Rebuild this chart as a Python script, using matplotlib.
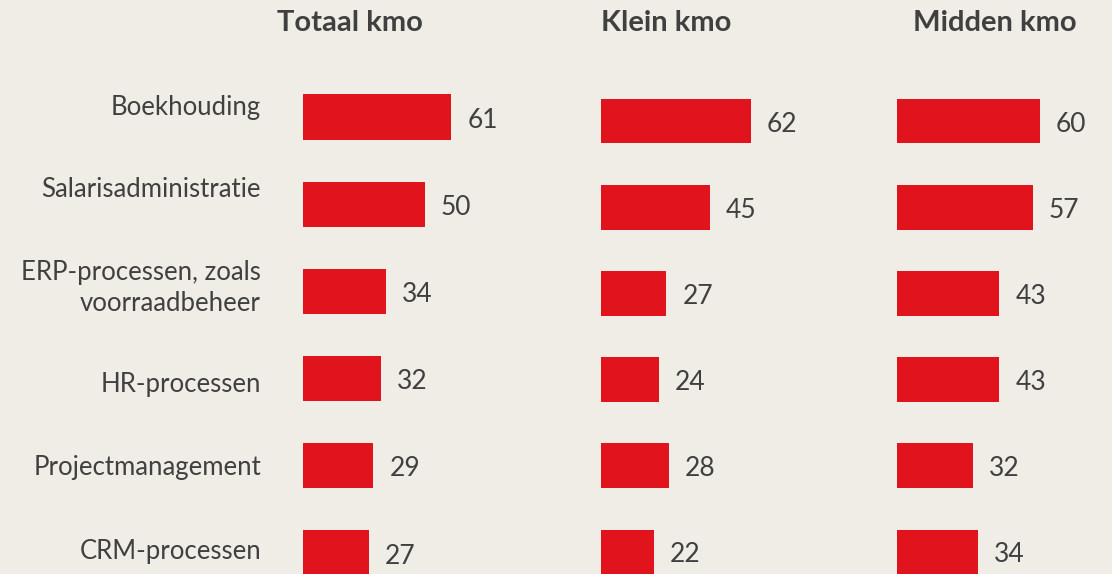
import matplotlib.pyplot as plt
import matplotlib.transforms as mtransforms

# Data
categories = [
    "Boekhouding",
    "Salarisadministratie",
    "ERP-processen, zoals\nvoorraadbeheer",
    "HR-processen",
    "Projectmanagement",
    "CRM-processen",
]
panel_titles = ["Totaal kmo", "Klein kmo", "Midden kmo"]
totaal_kmo = [61, 50, 34, 32, 29, 27]
klein_kmo = [62, 45, 27, 24, 28, 22]
midden_kmo = [60, 57, 43, 43, 32, 34]

# Style
bg = "#F0EDE6"
bar_color = "#E1141E"
text_color = "#404040"
W, H = 1112, 574

plt.rcParams["font.family"] = ["Lato", "DejaVu Sans"]

fig = plt.figure(figsize=(W / 100, H / 100), dpi=100, facecolor=bg)

# panel layout in pixels: bar start x, px per 100 units, first row center y, row spacing
layout = [
    (303, 243, 117, 87.2),
    (601, 242, 121, 86.2),
    (897, 238, 121, 86.2),
]
title_x = [350, 666, 995]
series = [totaal_kmo, klein_kmo, midden_kmo]

axes = []
for (x0, w, c0, sp), vals in zip(layout, series):
    top = c0 - sp / 2
    h = sp * len(vals)
    ax = fig.add_axes([x0 / W, 1 - (top + h) / H, w / W, h / H])
    ax.set_xlim(0, 100)
    ax.set_ylim(len(vals) - 0.5, -0.5)
    ax.axis("off")
    ys = range(len(vals))
    ax.barh(ys, vals, height=0.52, color=bar_color, clip_on=False)
    for y, v in zip(ys, vals):
        off = mtransforms.offset_copy(ax.transData, fig=fig, x=16, y=-3, units="dots")
        ax.text(v, y, str(v), transform=off, ha="left", va="center",
                fontsize=19, color=text_color)
    axes.append(ax)

# titles
for tx, t in zip(title_x, panel_titles):
    fig.text(tx / W, 1 - 23 / H, t, ha="center", va="center",
             fontsize=21, fontweight="bold", color=text_color)

# category labels next to first panel
label_nudge = [-10, -15, -3, 6, 2, -2]
ax0 = axes[0]
for i, (cat, dy) in enumerate(zip(categories, label_nudge)):
    off = mtransforms.offset_copy(ax0.transData, fig=fig, x=-42, y=-dy, units="dots")
    ax0.text(0, i, cat, transform=off, ha="right", va="center",
             fontsize=18.5, color=text_color, multialignment="right",
             linespacing=1.3)

fig.savefig("out.png", dpi=100, facecolor=bg)
